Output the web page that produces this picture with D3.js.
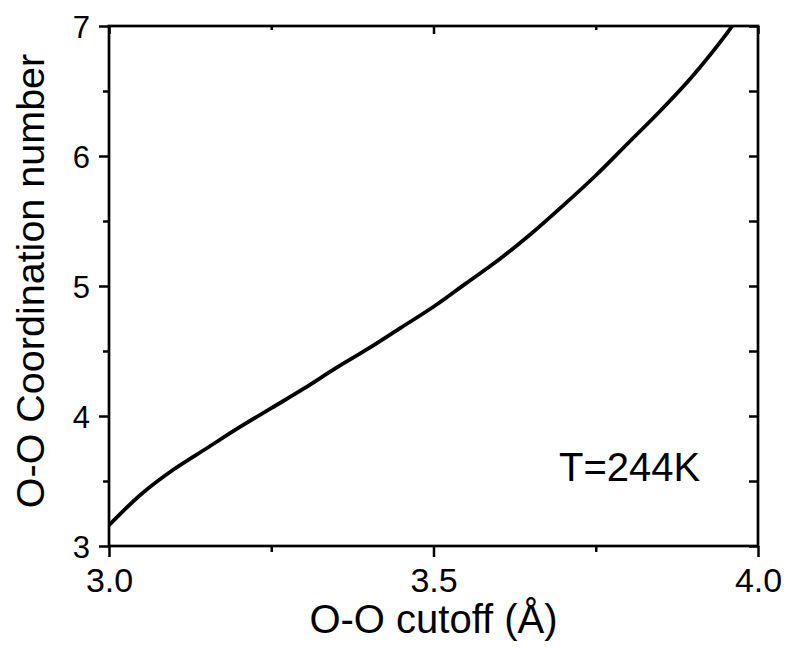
<!DOCTYPE html>
<html>
<head>
<meta charset="utf-8">
<script src="https://cdn.jsdelivr.net/npm/d3@7"></script>
<style>
  html, body { margin: 0; padding: 0; background: #fff; }
  svg { display: block; }
  text { font-family: "Liberation Sans", Arial, sans-serif; fill: #000; }
</style>
</head>
<body>
<svg id="chart" width="788" height="648"></svg>
<script>
// Data
const cutoff = [3.00, 3.05, 3.10, 3.15, 3.20, 3.25, 3.30, 3.35, 3.40, 3.45, 3.50,
                3.55, 3.60, 3.65, 3.70, 3.75, 3.80, 3.85, 3.90, 3.95, 3.97];
const coordination = [3.16, 3.40, 3.59, 3.75, 3.91, 4.06, 4.21, 4.37, 4.52, 4.68, 4.84,
                      5.02, 5.20, 5.40, 5.62, 5.85, 6.10, 6.35, 6.62, 6.93, 7.07];
const xTicks = [3.0, 3.5, 4.0];
const xMinorTicks = [3.25, 3.75];
const yTicks = [3, 4, 5, 6, 7];
const yMinorTicks = [3.5, 4.5, 5.5, 6.5];
const xTitle = "O-O cutoff (Å)";
const yTitle = "O-O Coordination number";
const annotation = "T=244K";

const svg = d3.select("#chart");
const L = 109, R = 758, T = 26, B = 546;
const x = d3.scaleLinear().domain([3.0, 4.0]).range([L, R]);
const y = d3.scaleLinear().domain([3, 7]).range([B, T]);

svg.append("defs").append("clipPath").attr("id", "clip")
  .append("rect").attr("x", L).attr("y", T).attr("width", R - L).attr("height", B - T);

const line = d3.line().x((d, i) => x(cutoff[i])).y(d => y(d)).curve(d3.curveCatmullRom.alpha(0.5));
svg.append("path")
  .datum(coordination)
  .attr("clip-path", "url(#clip)")
  .attr("fill", "none")
  .attr("stroke", "#000")
  .attr("stroke-width", 3.8)
  .attr("stroke-linejoin", "round")
  .attr("d", line);

function styleAxis(g) {
  g.select(".domain").remove();
  g.selectAll(".tick line").attr("stroke", "#000").attr("stroke-width", 2.5);
}

// bottom axis: major outward
const gB = svg.append("g").attr("transform", `translate(0,${B})`)
  .call(d3.axisBottom(x).tickValues(xTicks).tickSize(11).tickFormat(d3.format(".1f")));
styleAxis(gB);
gB.selectAll(".tick text").attr("font-size", 34).attr("dy", 0).attr("y", 46)
  .attr("font-family", "Liberation Sans, Arial, sans-serif");
const gBm = svg.append("g").attr("transform", `translate(0,${B})`)
  .call(d3.axisBottom(x).tickValues(xMinorTicks).tickSize(6).tickFormat(""));
styleAxis(gBm);

// top axis: inward
const gT = svg.append("g").attr("transform", `translate(0,${T})`)
  .call(d3.axisBottom(x).tickValues(xTicks).tickSize(8).tickFormat(""));
styleAxis(gT);
const gTm = svg.append("g").attr("transform", `translate(0,${T})`)
  .call(d3.axisBottom(x).tickValues(xMinorTicks).tickSize(4).tickFormat(""));
styleAxis(gTm);

// left axis: outward
const gL = svg.append("g").attr("transform", `translate(${L},0)`)
  .call(d3.axisLeft(y).tickValues(yTicks).tickSize(10).tickFormat(d3.format("d")));
styleAxis(gL);
gL.selectAll(".tick text").attr("font-size", 31).attr("x", -19).attr("dy", "0.36em")
  .attr("font-family", "Liberation Sans, Arial, sans-serif");
const gLm = svg.append("g").attr("transform", `translate(${L},0)`)
  .call(d3.axisLeft(y).tickValues(yMinorTicks).tickSize(6).tickFormat(""));
styleAxis(gLm);

// right axis: inward
const gR = svg.append("g").attr("transform", `translate(${R},0)`)
  .call(d3.axisLeft(y).tickValues(yTicks.concat(yMinorTicks)).tickSize(9).tickFormat(""));
styleAxis(gR);

// frame
svg.append("rect").attr("x", L).attr("y", T).attr("width", R - L).attr("height", B - T)
  .attr("fill", "none").attr("stroke", "#000").attr("stroke-width", 2.7);

// titles
svg.append("text").attr("x", (L + R) / 2).attr("y", 633).attr("text-anchor", "middle")
  .attr("font-size", 40).text(xTitle);
svg.append("text").attr("transform", `translate(44,281) rotate(-90)`)
  .attr("text-anchor", "middle").attr("font-size", 39.5).text(yTitle);

svg.append("text").attr("x", 559).attr("y", 481).attr("font-size", 40).text(annotation);
</script>
</body>
</html>
